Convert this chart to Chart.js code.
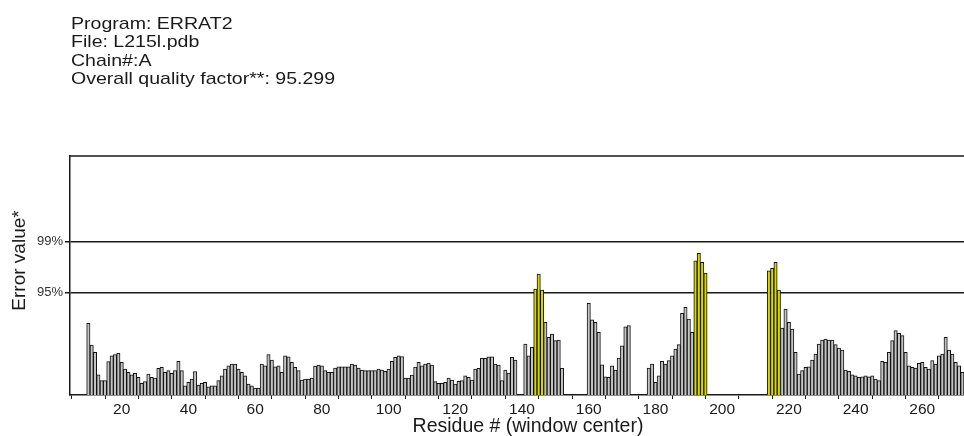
<!DOCTYPE html>
<html>
<head>
<meta charset="utf-8">
<script src="https://cdn.jsdelivr.net/npm/chart.js@4.4.1/dist/chart.umd.min.js"></script>
<style>
html,body{margin:0;padding:0;background:#fff;overflow:hidden}
#wrap{width:964px;height:436px;position:relative}
</style>
</head>
<body>
<div id="wrap"><canvas id="c" width="964" height="436"></canvas></div>
<script>
// ---- data ----
const headerLines = ["Program: ERRAT2", "File: L215l.pdb", "Chain#:A", "Overall quality factor**: 95.299"];
const yAxisTitle = "Error value*";
const xAxisTitle = "Residue # (window center)";
const thresholdLabels = ["95%", "99%"];
const thresholdValues = [11.36, 17.0];
const xTickValues = [10,20,30,40,50,60,70,80,90,100,110,120,130,140,150,160,170,180,190,200,210,220,230,240,250,260,270];
const residues = [10,11,12,13,14,15,16,17,18,19,20,21,22,23,24,25,26,27,28,29,30,31,32,33,34,35,36,37,38,39,
40,41,42,43,44,45,46,47,48,49,50,51,52,53,54,55,56,57,58,59,60,61,62,63,64,65,66,67,68,69,
70,71,72,73,74,75,76,77,78,79,80,81,82,83,84,85,86,87,88,89,90,91,92,93,94,95,96,97,98,99,
100,101,102,103,104,105,106,107,108,109,110,111,112,113,114,115,116,117,118,119,
120,121,122,123,124,125,126,127,128,129,130,131,132,133,134,135,136,137,138,139,
140,141,142,143,144,145,146,147,148,149,150,151,152,153,154,155,156,157,158,159,
160,161,162,163,164,165,166,167,168,169,170,171,172,173,174,175,176,177,178,179,
180,181,182,183,184,185,186,187,188,189,190,191,192,193,194,195,196,197,198,199,
200,201,202,203,204,205,206,207,208,209,210,211,212,213,214,215,216,217,218,219,
220,221,222,223,224,225,226,227,228,229,230,231,232,233,234,235,236,237,238,239,
240,241,242,243,244,245,246,247,248,249,250,251,252,253,254,255,256,257,258,259,
260,261,262,263,264,265,266,267,268,269,270,271,272];
const errorValues = [
7.96,5.55,4.74,2.25,1.59,1.59,3.70,4.36,4.48,4.63,
3.63,2.89,2.52,2.25,2.41,1.97,1.30,1.48,2.33,1.97,
1.89,2.97,3.08,2.52,2.70,2.41,2.70,3.74,2.70,1.03,
1.41,1.78,2.59,1.11,1.30,1.41,0.92,1.03,1.03,1.59,
2.14,2.89,3.25,3.44,3.44,2.89,2.52,2.14,1.22,1.03,
0.78,0.78,3.44,3.25,4.48,3.89,3.14,3.25,2.52,4.36,
4.25,3.63,3.08,2.70,1.67,1.78,1.78,1.89,3.22,3.33,
3.25,2.70,2.52,2.52,3.00,3.14,3.14,3.14,3.14,3.44,
3.33,3.00,2.78,2.70,2.70,2.70,2.70,2.89,2.78,2.63,
2.89,3.74,4.19,4.36,4.28,1.89,1.89,2.22,3.11,3.63,
3.25,3.44,3.55,3.33,1.48,1.30,1.30,1.41,1.89,1.67,
1.22,1.52,1.59,2.14,1.97,1.67,2.89,2.97,4.08,4.08,
4.25,4.25,3.44,3.33,1.59,2.78,2.44,4.19,3.89,null,
null,5.66,4.36,5.30,11.77,13.44,11.66,8.07,6.41,6.77,
6.03,6.11,2.97,null,null,null,null,null,null,null,
10.18,8.36,8.07,6.96,3.36,2.03,1.97,3.25,2.78,4.11,
5.47,7.58,7.70,null,null,null,null,null,3.00,3.44,
1.41,2.14,3.74,3.44,3.81,4.36,5.11,5.59,9.07,9.74,
8.44,6.96,14.91,15.74,14.74,13.55,null,null,null,null,
null,null,null,null,null,null,null,null,null,null,
null,null,null,null,13.80,14.07,14.74,11.66,7.44,9.55,
8.07,7.33,4.74,2.33,2.70,3.08,3.14,3.89,4.55,5.66,
6.11,6.22,6.11,6.11,5.59,5.22,5.00,2.78,2.63,2.25,
2.14,1.97,2.03,2.14,2.03,2.14,1.78,1.59,3.74,3.63,
4.74,6.03,7.14,6.85,6.59,4.74,3.25,3.08,3.00,3.52,
3.63,3.08,2.89,3.81,3.44,4.36,4.55,6.41,5.00,4.55,
3.63,3.25,2.52];

// ---- styles ----
const FONT = "'Liberation Sans', Arial, Helvetica, sans-serif";
const INK = "#1a1a1a";
const Y_MAX = 26.54;

const points = residues.map((r, i) => ({ x: r, y: errorValues[i] }));
const fills = errorValues.map(v => (v !== null && v > thresholdValues[0]) ? "#d8d800" : "#c4c4c4");

const decorPlugin = {
  id: "decor",
  afterDraw(chart) {
    const { ctx, chartArea } = chart;
    ctx.save();
    // top frame line
    ctx.strokeStyle = INK;
    ctx.lineWidth = 1.5;
    ctx.beginPath();
    ctx.moveTo(chartArea.left, chartArea.top);
    ctx.lineTo(chartArea.right, chartArea.top);
    ctx.stroke();
    // header text (slightly wide glyphs, as in the reference)
    ctx.fillStyle = INK;
    ctx.textAlign = "left";
    ctx.textBaseline = "alphabetic";
    ctx.save();
    ctx.translate(71, 0);
    ctx.scale(1.15, 1);
    ctx.font = "17px " + FONT;
    headerLines.forEach((t, i) => ctx.fillText(t, 0, 28.5 + i * 18.5));
    ctx.restore();
    // x title
    ctx.font = "19.5px " + FONT;
    ctx.textAlign = "center";
    ctx.textBaseline = "middle";
    ctx.fillText(xAxisTitle, 528, 426.5);
    // y title
    ctx.translate(20, 260.5);
    ctx.rotate(-Math.PI / 2);
    ctx.font = "19px " + FONT;
    ctx.fillText(yAxisTitle, 0, 0);
    ctx.restore();
  }
};

new Chart(document.getElementById("c"), {
  type: "bar",
  data: {
    datasets: [{
      data: points,
      backgroundColor: fills,
      borderColor: "#111111",
      borderWidth: 1,
      borderSkipped: "start",
      barPercentage: 1,
      categoryPercentage: 1
    }]
  },
  options: {
    responsive: false,
    animation: false,
    devicePixelRatio: 1,
    layout: { padding: { top: 156, left: 0, right: 0, bottom: 0 } },
    plugins: { legend: { display: false }, tooltip: { enabled: false }, title: { display: false } },
    scales: {
      x: {
        type: "linear",
        min: 4.5,
        max: 272.5,
        offset: false,
        afterBuildTicks: s => { s.ticks = xTickValues.map(v => ({ value: v })); },
        afterFit: s => { s.height = 41; },
        ticks: {
          autoSkip: false, maxRotation: 0, minRotation: 0, padding: 1,
          callback: v => (v % 20 === 0 ? String(v) : ""),
          font: { family: FONT, size: 15.5 }, color: INK
        },
        grid: { drawOnChartArea: false, drawTicks: true, tickLength: 4, color: INK, lineWidth: 1 },
        border: { display: true, color: INK, width: 1.5 },
        title: { display: false }
      },
      y: {
        min: 0,
        max: Y_MAX,
        afterBuildTicks: s => { s.ticks = thresholdValues.map(v => ({ value: v })); },
        afterFit: s => { s.width = 70; },
        ticks: {
          padding: 2,
          callback: (v, i) => thresholdLabels[i],
          font: { family: FONT, size: 13 }, color: "#333"
        },
        grid: { color: INK, lineWidth: 1.5, drawTicks: true, tickLength: 5 },
        border: { display: true, color: INK, width: 1.5 }
      }
    }
  },
  plugins: [decorPlugin]
});
</script>
</body>
</html>
